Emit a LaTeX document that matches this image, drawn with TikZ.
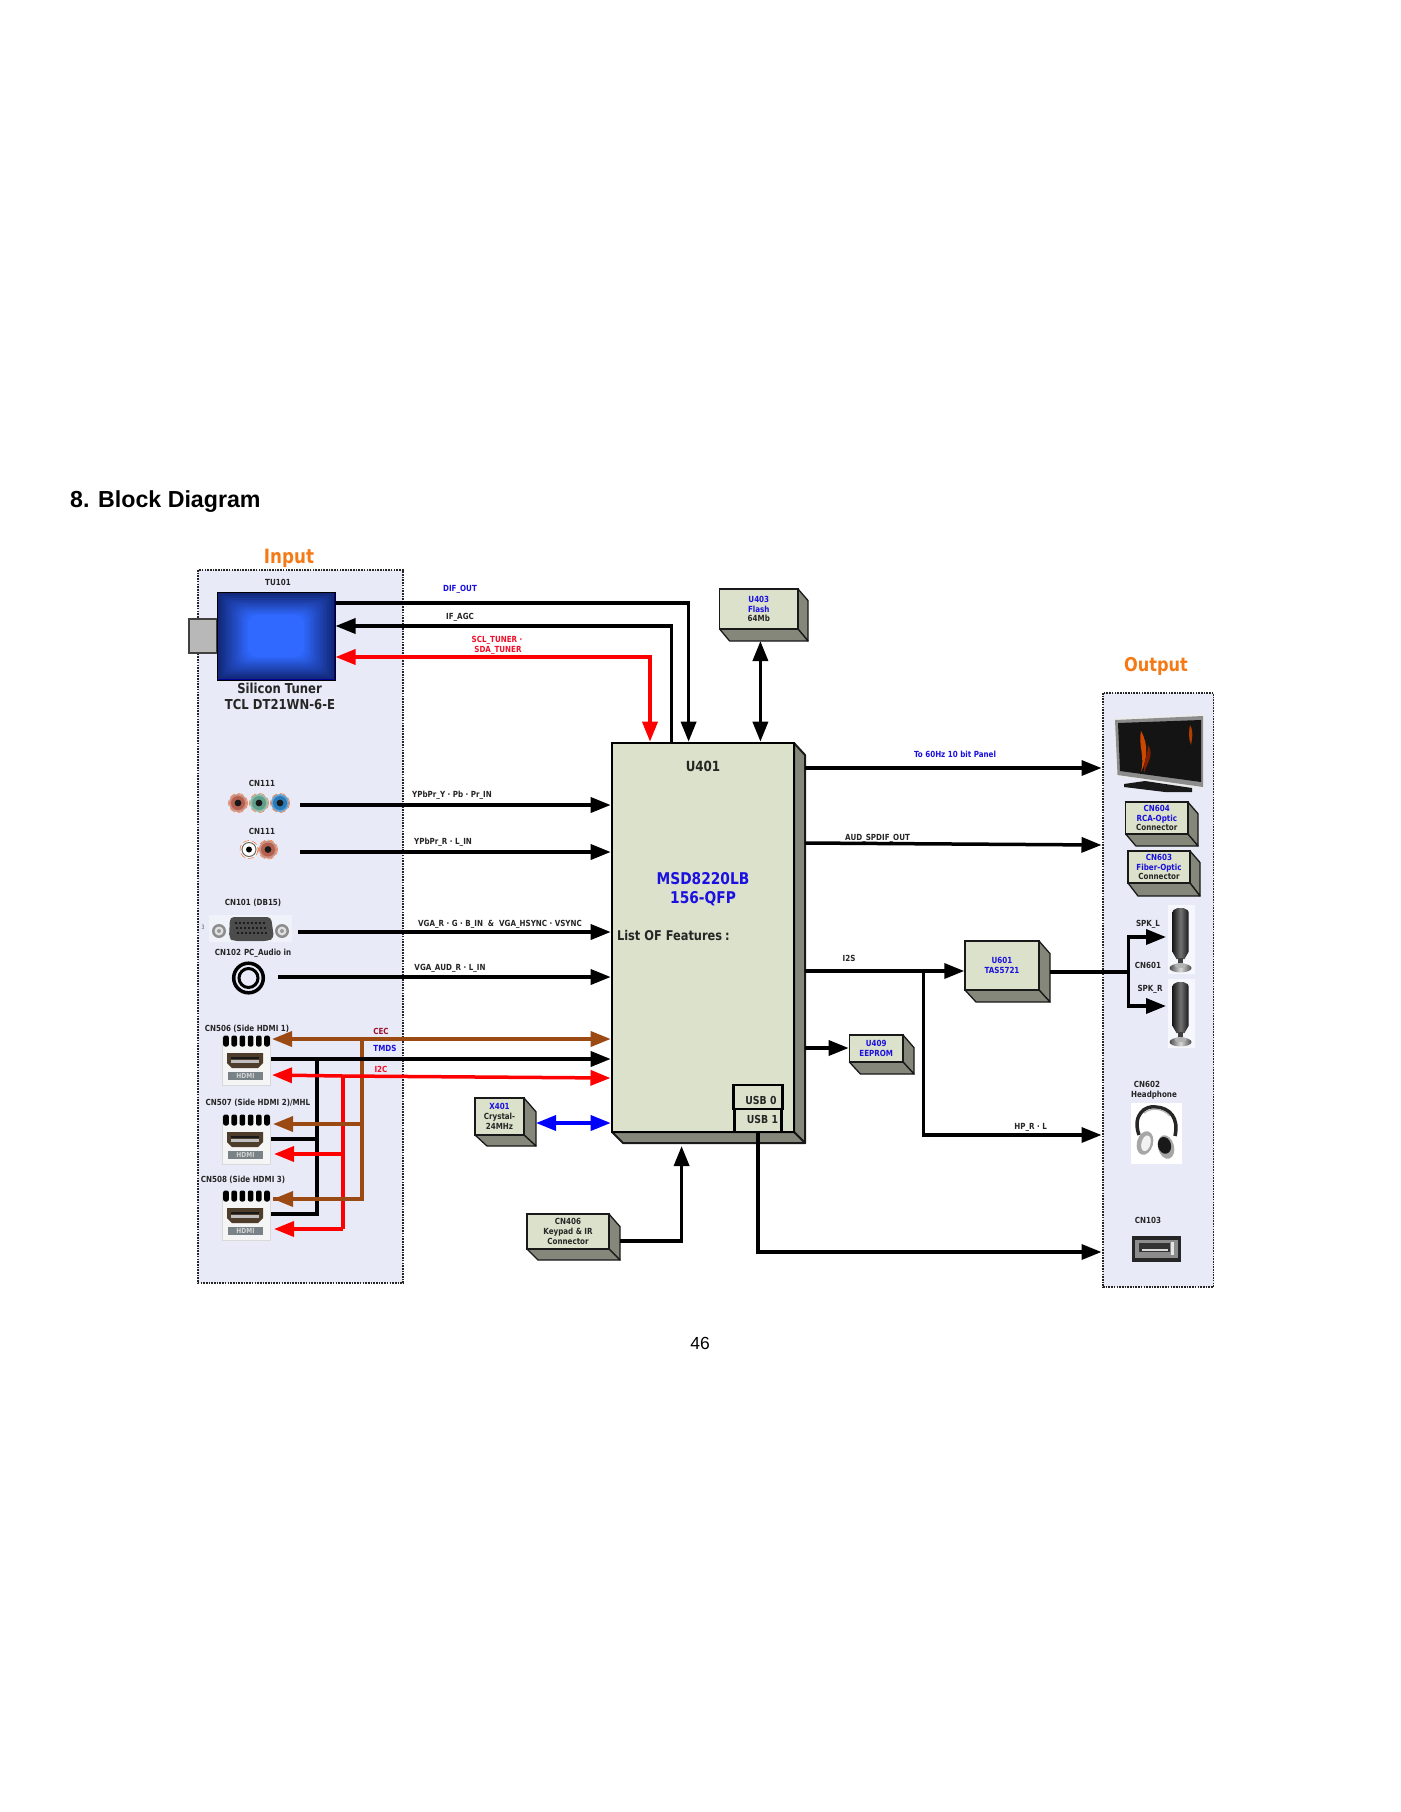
\documentclass[tikz,border=0pt]{standalone}
\usepackage{fontspec}
\setmainfont{DejaVu Sans}[FakeStretch=0.85]
\newfontfamily\arialf{Liberation Sans}
\usetikzlibrary{arrows.meta,calc}
\definecolor{panelbg}{HTML}{E8EBF7}
\definecolor{chipface}{HTML}{DCE1CB}
\definecolor{chipside}{HTML}{85877A}
\definecolor{brownline}{HTML}{9C4A14}
\definecolor{orangetxt}{HTML}{F47A16}
\definecolor{bluetxt}{HTML}{1A10E0}
\definecolor{redtxt}{HTML}{F0102A}
\definecolor{cectxt}{HTML}{A01030}
\definecolor{rcared}{HTML}{B5604F}
\definecolor{rcagreen}{HTML}{5F9F8A}
\definecolor{rcablue}{HTML}{2A7AB8}
\newcommand{\bl}[1]{\textcolor{bluetxt}{#1}}
\newcommand{\fs}[1]{\fontsize{#1}{#1}\selectfont\bfseries}
\tikzset{
 x=1pt,y=-1pt,
 lbl/.style={inner sep=0,outer sep=0,align=center,font=\fs{8.4},text=black!85},
 lblb/.style={lbl,text=bluetxt},
 lblr/.style={lbl,text=redtxt},
 panel/.style={draw=black!85,fill=panelbg,dash pattern=on 1.6pt off 1.1pt,line width=1.6pt},
 front/.style={draw=black!90,fill=chipface,line width=1.5pt,inner sep=0,align=center,font=\fs{8.4},text=black!85},
 side/.style={draw=black!90,fill=chipside,line width=1.3pt,line join=round},
 conn/.style={line width=3.5pt,draw=black,line join=miter},
 tip/.style={-{Triangle[length=20pt,width=15pt]}},
 tips/.style={{Triangle[length=20pt,width=15pt]}-{Triangle[length=20pt,width=15pt]}},
}
% name, x1,y1,x2,y2,x3,y3, text
\newcommand{\threed}[8]{%
 \path[side] (#4,#3) -- (#6,{#3+(#6-#4)*1.15}) -- (#6,#7) -- (#4,#5) -- cycle;
 \path[side] (#2,#5) -- ({#2+(#6-#4)},#7) -- (#6,#7) -- (#4,#5) -- cycle;
 \node[front,minimum width={(#4-#2)*1pt},minimum height={(#5-#3)*1pt}] (#1) at ({(#2+#4)/2},{(#3+#5)/2}) {#8};
}
\newcommand{\rca}[3]{%
 \fill[#3!70!white] (#1,#2) circle (9);
 \draw[orange!70!red,line width=.4pt,dash pattern=on 6pt off 3pt] (#1,#2) circle (9.6);
 \fill[#3] (#1,#2) circle (7);
 \fill[black!90] (#1,#2) circle (3.4);
}
\newcommand{\hdmi}[1]{%
 \fill[black!4,draw=black!15,line width=.5pt] (222,#1-7) rectangle (270,#1+44);
 \fill[panelbg] (221,#1-9) rectangle (271,#1-4);
 \foreach \q in {0,1,2,3,4,5} {\fill[black,rounded corners=2pt] ({226+\q*8.2-2.8},#1-5.5) rectangle ({226+\q*8.2+2.8},#1+5.5);}
 \fill[black!65!brown!80!gray] (227,#1+12) -- (263,#1+12) -- (263,#1+22) -- (258,#1+27) -- (232,#1+27) -- (227,#1+22) -- cycle;
 \fill[black!90] (231,#1+16) rectangle (259,#1+18);
 \fill[black!25] (231,#1+19) rectangle (259,#1+22);
 \fill[black!62!cyan!30!gray] (228,#1+31) rectangle (263,#1+39);
 \node[inner sep=0,text=white!65!gray,font=\fs{7}] at (245.5,#1+35) {HDMI};
}
\newcommand{\speaker}[2]{%
 \fill[white!60!panelbg] (#1-13,#2-3) rectangle (#1+14,#2+66);
 \shade[left color=black!90,right color=black!90,middle color=black!55] (#1-8,#2+4) -- (#1-7,#2+2) -- (#1-3,#2) -- (#1+3,#2) -- (#1+7,#2+2) -- (#1+8,#2+4) -- (#1+8,#2+44) -- (#1+4,#2+51) -- (#1-4,#2+51) -- (#1-8,#2+44) -- cycle;
 \fill[black!75] (#1-2.5,#2+50) rectangle (#1+2.5,#2+56);
 \shade[left color=black!70,right color=black!70,middle color=black!15] (#1,#2+60) ellipse (11 and 4.5);
 \fill[black!30] (#1,#2+57.5) ellipse (6 and 2.5);
}
\begin{document}
\begin{tikzpicture}
\useasboundingbox (0,0) rectangle (1400,1812);
\node[anchor=west,inner sep=0,font=\arialf\fontsize{23.2}{24}\selectfont\bfseries] (title) at (70,501.5) {8. Block Diagram};
\node[inner sep=0,font=\arialf\fontsize{17.5}{18}\selectfont] (pageno) at (700,1343) {46};

% panels
\draw[panel] (198,570) rectangle (403,1283);
\draw[panel] (1103,693) rectangle (1213.5,1287);
\node[inner sep=0,font=\fs{19.7},text=orangetxt] (inputt) at (289,558) {Input};
\node[inner sep=0,font=\fs{19},text=orangetxt] (outputt) at (1156,666) {Output};

% tuner
\fill[black!28,draw=black!75,line width=1.3pt] (189,619) rectangle (217,653);
\node[draw=black,line width=1pt,minimum width=118pt,minimum height=88pt,inner sep=0,fill=blue!60!black] (tuner) at (276,636) {};
\foreach \q in {0,1,...,17} {
 \pgfmathsetmacro{\ff}{min(\q/13,1)}
 \pgfmathsetmacro{\cr}{0.07+\ff*0.12}
 \pgfmathsetmacro{\cg}{0.16+\ff*0.25}
 \pgfmathsetmacro{\cb}{0.48+\ff*0.52}
 \pgfmathsetmacro{\rc}{min(\q*1.3,9)}
 \definecolor{tc}{rgb}{\cr,\cg,\cb}
 \fill[tc,rounded corners=\rc pt] ({218+\q*2.3},{593+\q*1.7}) rectangle ({334-\q*2.3},{679-\q*1.7});
}
\draw[black,line width=1pt] (217,592) rectangle (335,680);
\node[lbl] (tu) at (278,582) {TU101};
\node[lbl,font=\fs{13.7}] (st) at (279.5,688.5) {Silicon Tuner};
\node[lbl,font=\fs{13.7}] (st2) at (280,705) {TCL DT21WN-6-E};

% input connectors icons
\node[lbl] (cn111a) at (262,783) {CN111};
\rca{238}{803}{rcared}\rca{259}{803}{rcagreen}\rca{280}{803}{rcablue}
\node[lbl] (cn111b) at (262,831) {CN111};
\fill[white] (249,849.5) circle (8.5); \draw[orange!70!red,line width=.4pt,dash pattern=on 6pt off 3pt] (249,849.5) circle (9);
\draw[black!60,line width=1pt] (249,849.5) circle (7); \fill[black] (249,849.5) circle (3);
\rca{268}{849.5}{rcared}
\node[lbl] (cn101) at (253,903) {CN101 (DB15)};
\node[inner sep=0,font=\fontsize{6}{6}\selectfont,text=black!60] (three) at (203,927) {3};
\fill[white!35!panelbg] (209,915) rectangle (292,942);
\foreach \q in {219,282}{\fill[black!45] (\q,931) circle (7); \fill[black!12] (\q,931) circle (4.5); \fill[black!40] (\q,931) circle (2);}
\fill[black!70,rounded corners=4pt] (230,917) -- (271,917) -- (274,938) -- (268,941) -- (233,941) -- (229,938) -- cycle;
\foreach \q in {0,...,7}{\foreach \r in {0,1,2}{\fill[black!95] ({236+\q*4+\r*1},{923+\r*5}) circle (1.2);}}
\node[lbl] (cn102) at (253,953) {CN102\hspace{3pt}PC\_Audio in};
\draw[black,line width=3.5pt] (248.5,978) circle (14.8);
\draw[black,line width=3pt] (248.5,978) circle (9.5);

\hdmi{1041}\hdmi{1120}\hdmi{1196}
\node[lbl] (cn506) at (247,1029) {CN506 (Side HDMI 1)};
\node[lbl] (cn507) at (258,1103) {CN507 (Side HDMI 2)/MHL};
\node[lbl] (cn508) at (243,1180) {CN508 (Side HDMI 3)};

% chip
\path[side,line width=2pt] (794,743) -- (805,755) -- (805,1143) -- (794,1132) -- cycle;
\path[side,line width=2pt] (612,1132) -- (623,1143) -- (805,1143) -- (794,1132) -- cycle;
\node[draw=black,fill=chipface,line width=2.6pt,inner sep=0,minimum width=182pt,minimum height=389pt] (chip) at (703,937.5) {};
\node[lbl,font=\fs{14}] (u401) at (703,766) {U401};
\node[lbl,font=\fs{16.2},text=bluetxt] (msd) at (703,879) {MSD8220LB};
\node[lbl,font=\fs{16.2},text=bluetxt] (qfp) at (703,899) {156-QFP};
\node[lbl,anchor=west,font=\fs{13.4}] (lof) at (617,935) {List OF Features\hspace{3pt}:};
\node[draw=black,line width=2.4pt,minimum width=49pt,minimum height=24pt,inner sep=0,fill=chipface] (usb0) at (758,1097) {};
\node[draw=black,line width=2.4pt,minimum width=47pt,minimum height=23pt,inner sep=0,fill=chipface] (usb1) at (758,1120.5) {};
\node[lbl,font=\fs{11}] (usb0t) at (761,1100) {USB 0};
\node[lbl,font=\fs{11}] (usb1t) at (762.5,1119) {USB 1};

% small boxes
\threed{u403}{719.6}{589}{798}{629}{808}{641}{\bl{U403}\\[1.5pt]\bl{Flash}\\[1.5pt]64Mb}
\threed{x401}{475}{1098}{524}{1135}{536}{1146}{\bl{X401}\\[1.5pt]Crystal-\\[1.5pt]24MHz}
\threed{cn406}{527}{1214}{609}{1249}{620}{1260}{CN406\\[1.5pt]Keypad \& IR\\[1.5pt]Connector}
\threed{u601}{965}{941}{1039}{990}{1050}{1002}{\bl{U601}\\[1.5pt]\bl{TAS5721}}
\threed{u409}{849.4}{1035}{903}{1062}{914}{1074}{\bl{U409}\\[1.5pt]\bl{EEPROM}}
\threed{cn604}{1125.7}{802}{1187.8}{834}{1198}{846}{\bl{CN604}\\[1.5pt]\bl{RCA-Optic}\\[1.5pt]Connector}
\threed{cn603}{1128}{851}{1190}{883}{1200}{896}{\bl{CN603}\\[1.5pt]\bl{Fiber-Optic}\\[1.5pt]Connector}

% output icons
\fill[black!8] (1114,718) -- (1205,714) -- (1205,790) -- (1116,776) -- cycle;
\fill[black!45] (1115,720) -- (1203,716) -- (1203,787) -- (1117.5,775) -- cycle;
\fill[black!92] (1118,723) -- (1201,720) -- (1201,782) -- (1120,771) -- cycle;
\fill[orange!70!red!80!black] (1141,731) .. controls (1149,745) and (1147,760) .. (1141,772) .. controls (1145,755) and (1138,745) .. (1141,731) -- cycle;
\fill[orange!50!red!50!black] (1148,745) .. controls (1155,755) and (1146,765) .. (1144,773) .. controls (1143,762) and (1148,755) .. (1148,745) -- cycle;
\fill[orange!70!red!70!black] (1190,725) .. controls (1194,732) and (1192,738) .. (1191,745) .. controls (1188,738) and (1189,730) .. (1190,725) -- cycle;
\fill[black!90] (1124,784) -- (1145,781) -- (1192,788) -- (1192,792) -- (1165,792) -- (1124,787) -- cycle;
\speaker{1180.5}{908}\speaker{1180.5}{982}
\node[lbl] (spkl) at (1148,924) {SPK\_L};
\node[lbl] (cn601) at (1148,965) {CN601};
\node[lbl] (spkr) at (1150,989) {SPK\_R};
\node[lbl] (cn602) at (1147,1084) {CN602};
\node[lbl] (hp) at (1154,1095) {Headphone};
\fill[white] (1130.6,1103) rectangle (1181.6,1164);
\draw[black!85,line width=3.5pt] (1139,1135) .. controls (1132,1115) and (1145,1105) .. (1156,1107) .. controls (1170,1108) and (1179,1118) .. (1175,1136);
\draw[black!30,line width=1.2pt] (1144,1113) .. controls (1152,1107) and (1162,1108) .. (1170,1116);
\fill[black!35,rotate around={-15:(1145,1143)}] (1145,1143) ellipse (8 and 12);
\fill[black!5,rotate around={-15:(1145,1143)}] (1146,1143) ellipse (4.5 and 8);
\fill[black!35,rotate around={15:(1166,1147)}] (1166,1147) ellipse (8 and 12);
\fill[black!90,rotate around={15:(1166,1147)}] (1165,1145) ellipse (6.5 and 8.5);
\node[lbl] (cn103) at (1148,1220) {CN103};
\fill[black!85] (1132,1236) rectangle (1181,1262);
\fill[black!45] (1135,1240) rectangle (1178,1258);
\fill[black!80] (1139,1243) rectangle (1170,1252);
\fill[black!15] (1142,1249) rectangle (1168,1251);
\fill[black!10] (1171,1242) rectangle (1174,1255);

% connector anchors
\coordinate (ypy) at (300,805); \coordinate (ypr) at (300,852);
\coordinate (vga) at (298,932); \coordinate (aud) at (278,977);
\coordinate (dif) at (688.6,603); \coordinate (agc) at (671.4,626); \coordinate (sda) at (650,657);
\coordinate (cec) at (272,1039); \coordinate (tmds) at (271,1059);
\coordinate (i2cl) at (272,1075); \coordinate (i2cr) at (610.5,1078);
\coordinate (cecb) at (362,1039); \coordinate (tmdb) at (317,1059); \coordinate (i2cb) at (343,1076);
\coordinate (c2) at (273,1124); \coordinate (c3) at (273,1199);
\coordinate (t2) at (271,1139); \coordinate (t3) at (271,1214);
\coordinate (r2) at (274,1154); \coordinate (r3) at (274,1229);
\coordinate (tvin) at (1101.5,768); \coordinate (spin) at (1101.5,845); \coordinate (spout) at (805,843);
\coordinate (hpin) at (1101.5,1135); \coordinate (hpj) at (923.7,971); \coordinate (usbin) at (1101.5,1252);
\coordinate (ampj) at (1128.6,972); \coordinate (spkla) at (1166,937); \coordinate (spkra) at (1166,1006);
\coordinate (usbo) at (758,1132); \coordinate (flashx) at (760.4,641);
\coordinate (xs) at (536,1123); \coordinate (kp) at (620,1241); \coordinate (kq) at (681.6,1241); \coordinate (kr) at (681.6,1146);
\coordinate (tvo) at (805,768); \coordinate (i2so) at (805,971); \coordinate (eeo) at (805,1048); \coordinate (ampo) at (1050,972);

% connectors
\draw[conn,tip] (tuner.east |- dif) -- (dif) -- (dif |- chip.north);
\draw[conn,tip] (agc |- chip.north) -- (agc) -- (tuner.east |- agc);
\draw[conn,draw=red,tips] (tuner.east |- sda) -- (sda) -- (sda |- chip.north);
\draw[conn,tip] (ypy) -- (ypy -| chip.west);
\draw[conn,tip] (ypr) -- (ypr -| chip.west);
\draw[conn,tip] (vga) -- (vga -| chip.west);
\draw[conn,tip] (aud) -- (aud -| chip.west);
% HDMI trunks
\draw[conn,draw=brownline] (cecb) -- (cecb |- c3) -- (c3) ;
\draw[conn] (tmdb) -- (tmdb |- t3) -- (t3);
\draw[conn,draw=red] (i2cb) -- (i2cb |- r3);
\draw[conn] (t2) -- (t2 -| tmdb);
\draw[conn,tips,draw=brownline] (cec) -- (cec -| chip.west);
\draw[conn,tip] (tmds) -- (tmds -| chip.west);
\draw[conn,draw=red,tips] (i2cl) -- (i2cb) -- (i2cr);
\draw[conn,draw=brownline,tip] (cecb |- c2) -- (c2);
\draw[conn,draw=brownline,tip] (cecb |- c3) -- (c3);
\draw[conn,draw=red,tip] (i2cb |- r2) -- (r2);
\draw[conn,draw=red,tip] (i2cb |- r3) -- (r3);
\node[lbl,text=cectxt] (cect) at (381,1031) {CEC};
\node[lblb] (tmdst) at (385,1048) {TMDS};
\node[lblr] (i2ct) at (381,1069) {I2C};
% others
\draw[conn,draw=blue,tips] (xs) -- (xs -| chip.west);
\draw[conn,tip] (kp) -- (kq) -- (kr);
\draw[conn,tips] (flashx) -- (flashx |- chip.north);
\draw[conn,tip] (tvo) -- (tvin);
\draw[conn,tip] (spout) -- (spin);
\draw[conn,tip] (i2so) -- (i2so -| u601.west);
\draw[conn,tip] (hpj) -- (hpj |- hpin) -- (hpin);
\draw[conn,tip] (eeo) -- (eeo -| u409.west);
\draw[conn,tip] (usbo) -- (usbo |- usbin) -- (usbin);
\draw[conn] (ampo) -- (ampj);
\draw[conn,tip] (ampj) -- (ampj |- spkla) -- (spkla);
\draw[conn,tip] (ampj) -- (ampj |- spkra) -- (spkra);

% labels on connectors
\node[lblb] (dift) at (460,589) {DIF\_OUT};
\node[lbl] (agct) at (460,617) {IF\_AGC};
\node[lblr] (sclt) at (497,640) {SCL\_TUNER ·};
\node[lblr] (sdat) at (498,650) {SDA\_TUNER};
\node[lbl] (ypt1) at (452,795) {YPbPr\_Y · Pb · Pr\_IN};
\node[lbl] (ypt2) at (443,842.5) {YPbPr\_R · L\_IN};
\node[lbl] (vgat) at (500,924) {VGA\_R · G · B\_IN \ \& \ VGA\_HSYNC · VSYNC};
\node[lbl] (audt) at (450,968) {VGA\_AUD\_R · L\_IN};
\node[lblb] (panelt) at (955,754) {To 60Hz 10 bit Panel};
\node[lbl] (spdift) at (877.6,838) {AUD\_SPDIF\_OUT};
\node[lbl] (i2st) at (849,958) {I2S};
\node[lbl] (hpt) at (1030.6,1127) {HP\_R · L};
\end{tikzpicture}
\end{document}
